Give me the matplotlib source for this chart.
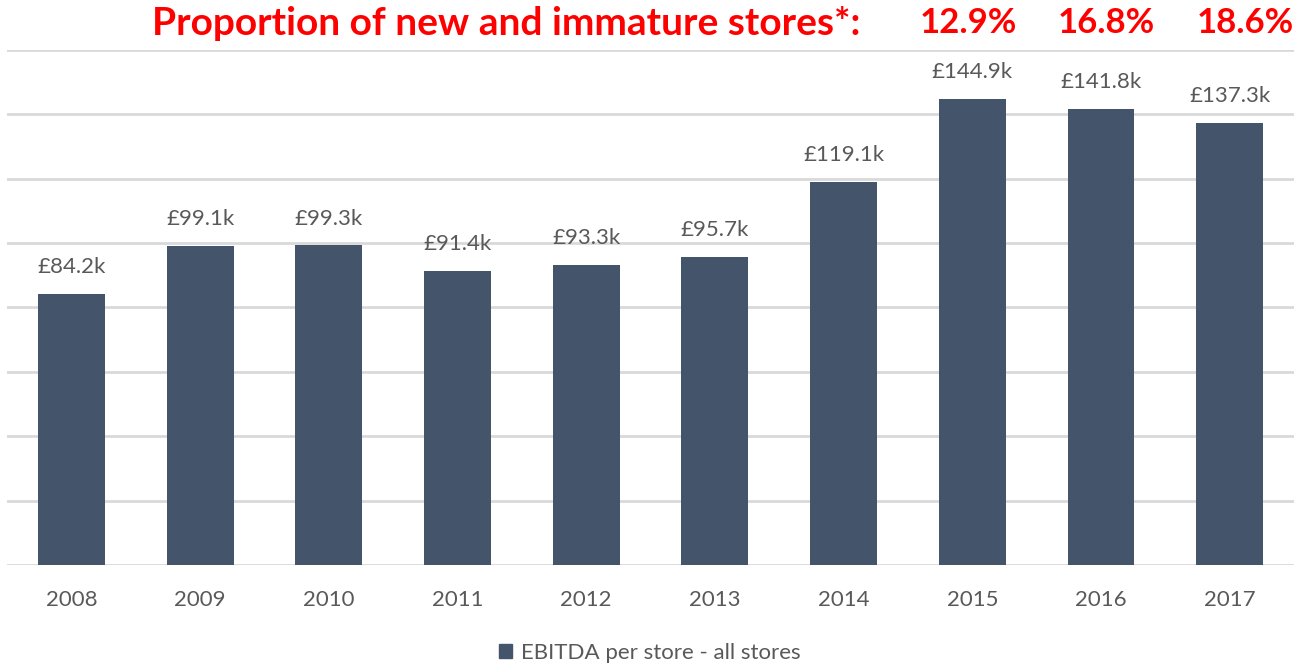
import matplotlib.pyplot as plt
from matplotlib.patches import Patch
import matplotlib.transforms as mtransforms

years = ['2008', '2009', '2010', '2011', '2012', '2013', '2014', '2015', '2016', '2017']
ebitda_k = [84.2, 99.1, 99.3, 91.4, 93.3, 95.7, 119.1, 144.9, 141.8, 137.3]
immature_years = ['2015', '2016', '2017']
immature_share = [12.9, 16.8, 18.6]

BAR = '#44546A'
GRID = '#D9D9D9'
TXT = '#595959'
RED = '#FF0000'

plt.rcParams['font.family'] = ['Lato', 'DejaVu Sans']

fig = plt.figure(figsize=(13, 6.65), dpi=100)
ax = fig.add_axes([0.0054, 0.1504, 0.99, 0.7744])

x = list(range(len(years)))
bars = ax.bar(x, ebitda_k, width=0.52, color=BAR, zorder=3)

for xi, v in zip(x, ebitda_k):
    ax.annotate(f'£{v:.1f}k', (xi, v), xytext=(0, 12), textcoords='offset points',
                ha='center', va='bottom', fontsize=16, color=TXT)

ax.set_xlim(-0.5, len(years) - 0.5)
ax.set_ylim(0, 160)
ax.set_yticks(range(0, 161, 20))
ax.yaxis.grid(True, color=GRID, linewidth=2)
ax.set_axisbelow(True)
ax.tick_params(axis='y', left=False, labelleft=False)
ax.tick_params(axis='x', length=0, pad=18, labelsize=16, labelcolor=TXT)
ax.set_xticks(x)
ax.set_xticklabels(years)
for side in ['top', 'right', 'left', 'bottom']:
    ax.spines[side].set_visible(False)

# red header with the share of new / immature stores
trans = mtransforms.blended_transform_factory(ax.transData, fig.transFigure)
fig.text(0.662, 0.965, 'Proportion of new and immature stores*:', ha='right', va='center',
         fontsize=28, fontweight='bold', color=RED)
for yr, s in zip(immature_years, immature_share):
    xi = years.index(yr)
    ax.text(xi - 0.03 + 0.075 * (xi - 7), 0.965, f'{s}%', transform=trans, ha='center',
            va='center', fontsize=25, fontweight='bold', color=RED)

fig.legend(handles=[Patch(color=BAR, label='EBITDA per store - all stores')],
           loc='center', bbox_to_anchor=(0.5, 0.018), frameon=False, fontsize=16,
           handlelength=0.6, handleheight=0.6, handletextpad=0.4, labelcolor=TXT)

fig.savefig('out.png', dpi=100)
